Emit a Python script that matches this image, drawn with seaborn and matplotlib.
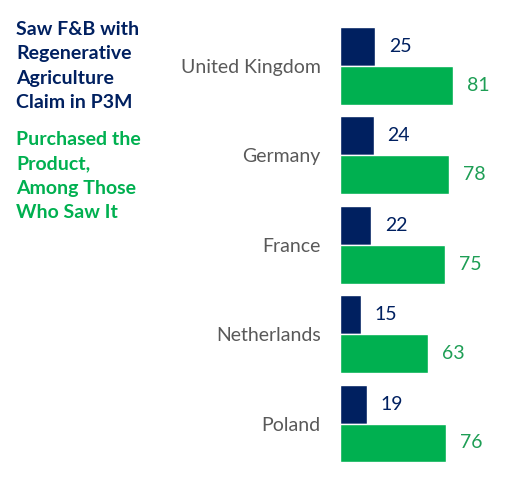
import pandas as pd
import matplotlib.pyplot as plt
import seaborn as sns

countries = ['United Kingdom', 'Germany', 'France', 'Netherlands', 'Poland']
saw = [25, 24, 22, 15, 19]
purchased = [81, 78, 75, 63, 76]

navy = '#002060'
green = '#00B050'
green_text = '#1E9E55'

df = pd.DataFrame({
    'country': countries * 2,
    'value': saw + purchased,
    'series': ['Saw'] * len(countries) + ['Purchased'] * len(countries),
})

sns.set_style('white')
plt.rcParams['font.family'] = ['Lato', 'DejaVu Sans']

fig = plt.figure(figsize=(5.06, 4.87), dpi=100)
ax = fig.add_axes([0.672, 0.0386, 0.328, 0.9177])

sns.barplot(data=df, x='value', y='country', hue='series', orient='h',
            palette=[navy, green], width=0.87, ax=ax, legend=False,
            saturation=1)

ax.set_xlim(0, 118.8)
ax.set_xlabel('')
ax.set_ylabel('')
ax.set_xticks([])
ax.tick_params(axis='y', length=0, pad=14, labelsize=14, labelcolor='#595959')
for s in ax.spines.values():
    s.set_visible(False)

ax.bar_label(ax.containers[0], padding=10, color=navy, fontsize=14)
ax.bar_label(ax.containers[1], padding=10, color=green_text, fontsize=14)

fig.text(0.032, 1 - 21 / 487, 'Saw F&B with\nRegenerative\nAgriculture\nClaim in P3M',
         color=navy, fontsize=14, fontweight='bold', va='top', linespacing=1.53)
fig.text(0.032, 1 - 131 / 487, 'Purchased the\nProduct,\nAmong Those\nWho Saw It',
         color=green, fontsize=14, fontweight='bold', va='top', linespacing=1.53)

fig.savefig('out.png', dpi=100)
